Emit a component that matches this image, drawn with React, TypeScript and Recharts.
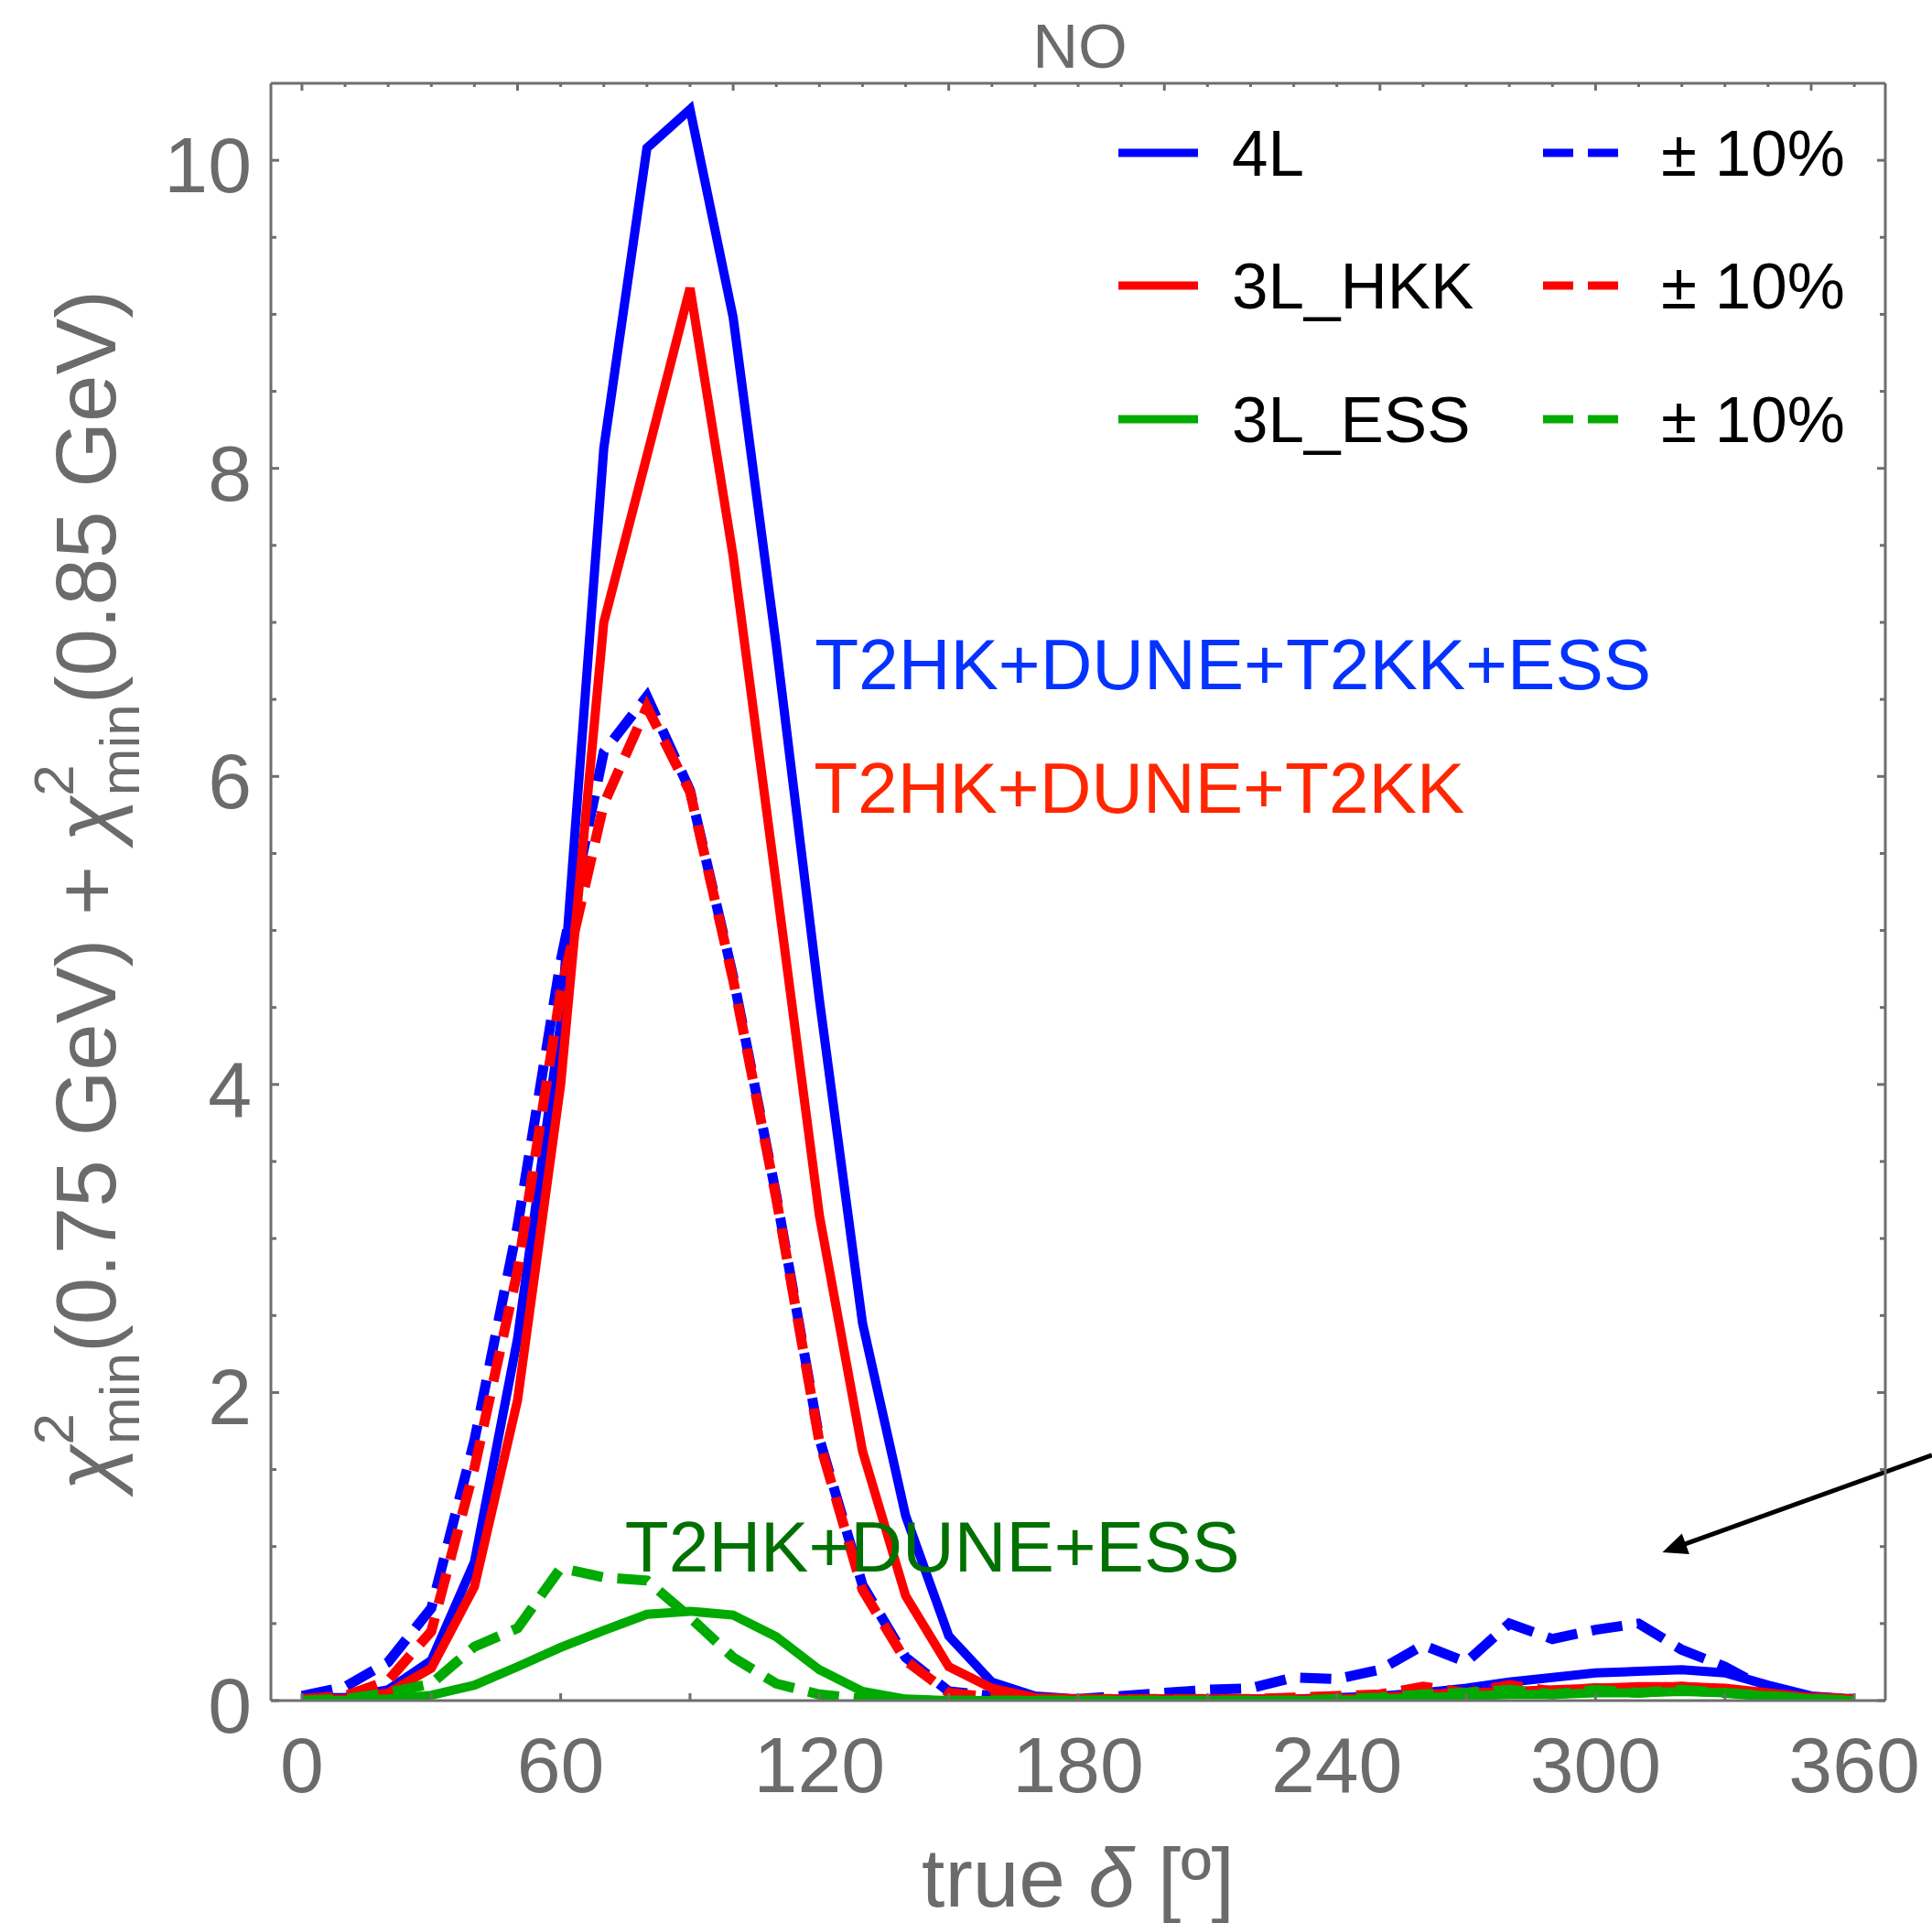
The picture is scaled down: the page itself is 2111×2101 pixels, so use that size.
import React from 'react';
import { LineChart, Line, XAxis, YAxis, Legend, ReferenceLine, ReferenceDot, Label } from 'recharts';

// ---------- data ----------
const deltaDeg = [0, 10, 20, 30, 40, 50, 60, 70, 80, 90, 100, 110, 120, 130, 140, 150, 160, 170, 180,
  190, 200, 210, 220, 230, 240, 250, 260, 270, 280, 290, 300, 310, 320, 330, 340, 350, 360];

const chi4L = [0.02, 0.02, 0.07, 0.26, 0.9, 2.35, 4.4, 8.13, 10.08, 10.33, 8.98, 6.85, 4.55, 2.45, 1.2, 0.42, 0.12, 0.03, 0.01,
  0.01, 0.01, 0.01, 0.01, 0.01, 0.02, 0.03, 0.05, 0.08, 0.12, 0.15, 0.18, 0.19, 0.2, 0.18, 0.1, 0.03, 0.01];
const chi4LVar = [0.03, 0.09, 0.25, 0.6, 1.69, 3.08, 4.8, 6.16, 6.52, 5.91, 4.7, 3.28, 1.7, 0.75, 0.28, 0.06, 0.03, 0.01, 0.01,
  0.03, 0.05, 0.07, 0.08, 0.15, 0.14, 0.2, 0.36, 0.25, 0.5, 0.4, 0.46, 0.5, 0.33, 0.22, 0.07, 0.02, 0.01];
const chi3LHKK = [0.01, 0.01, 0.05, 0.21, 0.74, 1.95, 4.0, 7.0, 8.08, 9.17, 7.43, 5.3, 3.15, 1.62, 0.68, 0.22, 0.08, 0.02, 0.01,
  0.01, 0.01, 0.01, 0.01, 0.01, 0.01, 0.02, 0.04, 0.05, 0.06, 0.07, 0.08, 0.09, 0.09, 0.08, 0.05, 0.02, 0.01];
const chi3LHKKVar = [0.01, 0.03, 0.13, 0.45, 1.51, 2.79, 4.6, 5.82, 6.45, 5.9, 4.68, 3.26, 1.68, 0.72, 0.26, 0.05, 0.02, 0.01, 0.01,
  0.01, 0.01, 0.01, 0.01, 0.02, 0.03, 0.04, 0.09, 0.05, 0.1, 0.06, 0.08, 0.07, 0.09, 0.07, 0.04, 0.02, 0.01];
const chi3LESS = [0, 0, 0.01, 0.035, 0.1, 0.22, 0.345, 0.455, 0.56, 0.58, 0.555, 0.415, 0.2, 0.06, 0.01, 0, 0, 0, 0,
  0, 0, 0, 0, 0, 0, 0.01, 0.02, 0.03, 0.04, 0.04, 0.05, 0.05, 0.06, 0.05, 0.03, 0.01, 0];
const chi3LESSVar = [0, 0.01, 0.05, 0.11, 0.35, 0.47, 0.86, 0.8, 0.78, 0.54, 0.28, 0.11, 0.04, 0.01, 0, 0, 0, 0, 0,
  0, 0, 0, 0, 0, 0.01, 0.02, 0.04, 0.05, 0.07, 0.04, 0.07, 0.05, 0.07, 0.05, 0.03, 0.01, 0];

const xTicksBottom = [0, 30, 60, 90, 120, 150, 180, 210, 240, 270, 300, 330, 360];
const xTickLabels = [0, 60, 120, 180, 240, 300, 360];
const xTicksTop = [0, 10, 20, 30, 40, 50, 60, 70, 80, 90, 100, 110, 120, 130, 140, 150, 160, 170, 180,
  190, 200, 210, 220, 230, 240, 250, 260, 270, 280, 290, 300, 310, 320, 330, 340, 350, 360];
const xTicksTopMajor = [0, 50, 100, 150, 200, 250, 300, 350];
const yTicks = [0, 0.5, 1, 1.5, 2, 2.5, 3, 3.5, 4, 4.5, 5, 5.5, 6, 6.5, 7, 7.5, 8, 8.5, 9, 9.5, 10];
const yTickLabels = [0, 2, 4, 6, 8, 10];

const xDomain = [-7.2, 367.2];
const yDomain = [0, 10.5];

const BLUE = '#0000ff';
const RED = '#ff0000';
const GREEN = '#00aa00';

const seriesDefs = [
  { key: 'fourL', name: '4L', values: chi4L, color: BLUE, dashed: false, alt: false },
  { key: 'fourLVar', name: '± 10%', values: chi4LVar, color: BLUE, dashed: true, alt: false },
  { key: 'hkk', name: '3L_HKK', values: chi3LHKK, color: RED, dashed: false, alt: false },
  { key: 'hkkVar', name: '± 10%', values: chi3LHKKVar, color: RED, dashed: true, alt: false },
  { key: 'ess', name: '3L_ESS', values: chi3LESS, color: GREEN, dashed: false, alt: true },
  { key: 'essVar', name: '± 10%', values: chi3LESSVar, color: GREEN, dashed: true, alt: true },
];

const annotations = [
  { text: 'T2HK+DUNE+T2KK+ESS', delta: 118.9, chi: 6.566, color: '#0433ff' },
  { text: 'T2HK+DUNE+T2KK', delta: 118.7, chi: 5.764, color: '#ff2600' },
  { text: 'T2HK+DUNE+ESS', delta: 74.9, chi: 0.838, color: '#007100' },
];

const arrowSegment = [{ x: 378, y: 1.593 }, { x: 315.5, y: 0.963 }];

const chartData = deltaDeg.map((d, i) => {
  const row: any = { delta: d };
  seriesDefs.forEach((s) => { row[s.key] = s.values[i]; });
  return row;
});

// ---------- styling ----------
const FONT = '"Liberation Sans", Arial, Helvetica, sans-serif';
const TXT = '#6b6b6b';
const FRAME = '#6e6e6e';
const DASH = '34 16';

const BottomTick = (props: any) => {
  const { x, y, payload } = props;
  const v = payload.value;
  const lab = xTickLabels.includes(v);
  return (
    <g>
      <line x1={x} y1={y} x2={x} y2={y - 8} stroke={FRAME} strokeWidth={3} />
      {lab && (
        <text x={x} y={y + 100} textAnchor="middle" fontSize={86} fill={TXT} fontFamily={FONT}>{v}</text>
      )}
    </g>
  );
};

const TopTick = (props: any) => {
  const { x, y, payload } = props;
  const major = xTicksTopMajor.includes(payload.value);
  return <line x1={x} y1={y} x2={x} y2={y + (major ? 8 : 4)} stroke={FRAME} strokeWidth={3} />;
};

const LeftTick = (props: any) => {
  const { x, y, payload } = props;
  const v = payload.value;
  const major = yTickLabels.includes(v);
  return (
    <g>
      <line x1={x} y1={y} x2={x + (major ? 9 : 6)} y2={y} stroke={FRAME} strokeWidth={3} />
      {major && (
        <text x={x - 21} y={y + 35} textAnchor="end" fontSize={86} fill={TXT} fontFamily={FONT}>{v}</text>
      )}
    </g>
  );
};

const RightTick = (props: any) => {
  const { x, y, payload } = props;
  const major = yTickLabels.includes(payload.value);
  return <line x1={x} y1={y} x2={x - (major ? 9 : 6)} y2={y} stroke={FRAME} strokeWidth={3} />;
};

const TitleLabel = (props: any) => {
  const vb = props.viewBox;
  return (
    <text x={vb.x + vb.width / 2 + 2} y={vb.y + 74} textAnchor="middle" fontSize={69} fill={TXT} fontFamily={FONT}>NO</text>
  );
};

const XTitle = (props: any) => {
  const vb = props.viewBox;
  return (
    <text x={vb.x + vb.width / 2} y={vb.y + 225} textAnchor="middle" fontSize={91} fill={TXT} fontFamily={FONT}>
      <tspan>true </tspan>
      <tspan fontStyle="italic">δ</tspan>
      <tspan> [º]</tspan>
    </text>
  );
};

const YTitle = (props: any) => {
  const vb = props.viewBox;
  const bx = vb.x + 126;
  const by = vb.y + vb.height - 229;
  const sub = 62;
  return (
    <text transform={`translate(${bx}, ${by}) rotate(-90)`} x={0} y={0} fontSize={92.5} fill={TXT} fontFamily={FONT}>
      <tspan fontStyle="italic">χ</tspan>
      <tspan fontSize={sub} dy={-46}>2</tspan>
      <tspan fontSize={sub} dx={-34} dy={72}>min</tspan>
      <tspan dy={-26}>(0.75 GeV) + </tspan>
      <tspan fontStyle="italic">χ</tspan>
      <tspan fontSize={sub} dy={-46}>2</tspan>
      <tspan fontSize={sub} dx={-34} dy={72}>min</tspan>
      <tspan dy={-26}>(0.85 GeV)</tspan>
    </text>
  );
};

const legendBox = { left: 1200, top: 100, width: 880, height: 420 };
const legendRowY = [167, 312, 458];

const LegendContent = () => {
  const solids = seriesDefs.filter((s) => !s.dashed);
  const dashes = seriesDefs.filter((s) => s.dashed);
  return (
    <svg width={legendBox.width} height={legendBox.height} style={{ display: 'block' }}>
      {solids.map((s, i) => {
        const yy = legendRowY[i] - legendBox.top;
        return (
          <g key={s.key}>
            <line x1={1222 - legendBox.left} x2={1309 - legendBox.left} y1={yy} y2={yy} stroke={s.color} strokeWidth={9} />
            <text x={1346 - legendBox.left} y={yy + 25} fontSize={71} fill="#000" fontFamily={FONT}>{s.name}</text>
          </g>
        );
      })}
      {dashes.map((s, i) => {
        const yy = legendRowY[i] - legendBox.top;
        return (
          <g key={s.key}>
            <line x1={1686 - legendBox.left} x2={1768 - legendBox.left} y1={yy} y2={yy} stroke={s.color} strokeWidth={9} strokeDasharray="33 16" />
            <text x={1815 - legendBox.left} y={yy + 25} fontSize={71} fill="#000" fontFamily={FONT}>{s.name}</text>
          </g>
        );
      })}
    </svg>
  );
};

const ArrowShape = (props: any) => {
  const { x1, y1, x2, y2 } = props;
  const dx = x2 - x1;
  const dy = y2 - y1;
  const len = Math.sqrt(dx * dx + dy * dy);
  const ux = dx / len;
  const uy = dy / len;
  const hl = 27;
  const hw = 12;
  const bx = x2 - ux * hl;
  const by = y2 - uy * hl;
  const px = -uy;
  const py = ux;
  const pts = `${x2},${y2} ${bx + px * hw},${by + py * hw} ${bx - px * hw},${by - py * hw}`;
  return (
    <g>
      <line x1={x1} y1={y1} x2={bx + ux * 2} y2={by + uy * 2} stroke="#000" strokeWidth={5} />
      <polygon points={pts} fill="#000" />
    </g>
  );
};

const makeAnnotation = (a: any) => (p: any) => (
  <text x={p.cx} y={p.cy} fontSize={78.5} fill={a.color} fontFamily={FONT}>{a.text}</text>
);

export default function App() {
  return (
    <div style={{ position: 'absolute', left: 0, top: 0, width: 2111, height: 2101, background: '#fff' }}>
      <LineChart width={2111} height={2101} data={chartData} margin={{ top: 0, right: 0, bottom: 0, left: 0 }}>
        <XAxis xAxisId="bottom" dataKey="delta" type="number" domain={xDomain} allowDataOverflow
          ticks={xTicksBottom} interval={0} height={243} tickSize={0} tickMargin={0} tickLine={false}
          tick={<BottomTick />} axisLine={{ stroke: FRAME, strokeWidth: 3 }}>
          <Label content={<XTitle />} />
        </XAxis>
        <XAxis xAxisId="top" orientation="top" dataKey="delta" type="number" domain={xDomain} allowDataOverflow
          ticks={xTicksTop} interval={0} height={91} tickSize={0} tickMargin={0} tickLine={false}
          tick={<TopTick />} axisLine={{ stroke: FRAME, strokeWidth: 3 }}>
          <Label content={<TitleLabel />} />
        </XAxis>
        <YAxis yAxisId="left" type="number" domain={yDomain} allowDataOverflow ticks={yTicks} interval={0}
          width={296} tickSize={0} tickMargin={0} tickLine={false} tick={<LeftTick />}
          axisLine={{ stroke: FRAME, strokeWidth: 3 }}>
          <Label content={<YTitle />} />
        </YAxis>
        <YAxis yAxisId="right" orientation="right" type="number" domain={yDomain} allowDataOverflow ticks={yTicks}
          interval={0} width={51} tickSize={0} tickMargin={0} tickLine={false} tick={<RightTick />}
          axisLine={{ stroke: FRAME, strokeWidth: 3 }} />

        {seriesDefs.map((s) => (
          <Line key={s.key} type="linear" dataKey={s.key} name={s.name}
            xAxisId={s.alt ? 'top' : 'bottom'} yAxisId={s.alt ? 'right' : 'left'}
            stroke={s.color} strokeWidth={s.dashed ? 11 : 10} strokeDasharray={s.dashed ? DASH : undefined}
            dot={false} activeDot={false} isAnimationActive={false} />
        ))}

        {annotations.map((a) => (
          <ReferenceDot key={a.text} xAxisId="bottom" yAxisId="left" x={a.delta} y={a.chi} r={0}
            ifOverflow="visible" shape={makeAnnotation(a)} />
        ))}

        <ReferenceLine xAxisId="bottom" yAxisId="left" segment={arrowSegment} ifOverflow="visible"
          shape={ArrowShape} />

        <Legend layout="horizontal" verticalAlign="middle" align="center" width={legendBox.width}
          height={legendBox.height} content={<LegendContent />}
          wrapperStyle={{ left: legendBox.left, top: legendBox.top, width: legendBox.width, height: legendBox.height }} />
      </LineChart>
    </div>
  );
}
